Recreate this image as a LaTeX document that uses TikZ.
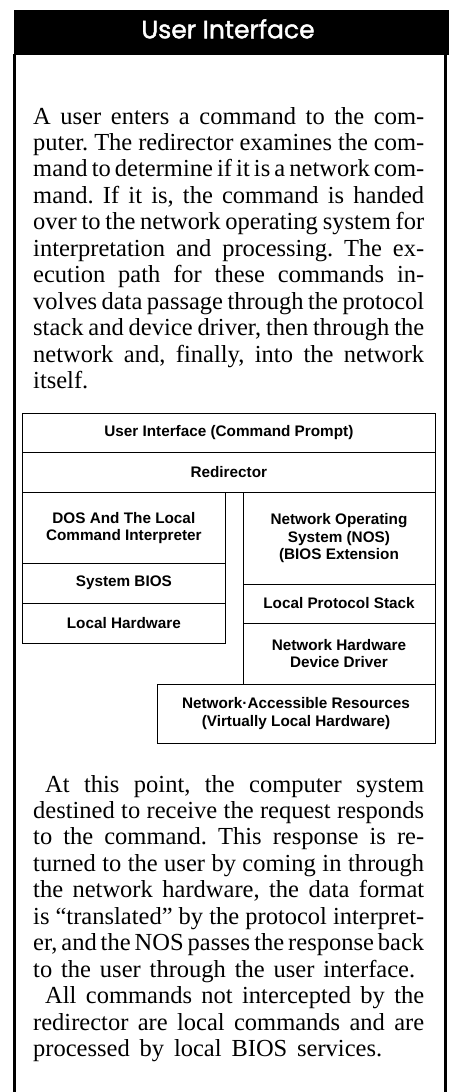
\documentclass[tikz,border=0pt]{standalone}
\usepackage{fontspec}
\setmainfont{Liberation Serif}
\newfontfamily\boxfont{Liberation Sans}
\newfontfamily\titlefont{Poppins}[FakeBold=1.6]
\newcommand\jline[1]{\hbox to\hsize{#1}}
\newcommand\wline[2]{\hbox to #1{#2}}
\newcommand\nline[1]{\hbox{#1}}
\hbadness=10000
\hfuzz=30pt
\frenchspacing
\tikzset{
  layer/.style={draw, line width=0.9pt, inner sep=0pt, align=center,
    font=\boxfont\bfseries\fontsize{15.3}{17.5}\selectfont},
  para/.style={inner sep=0pt, anchor=base west, text width=391pt,
    font=\fontsize{24.5}{26.45}\selectfont},
  frameline/.style={line width=2.5pt},
  titletext/.style={inner sep=0pt, anchor=base, text=white,
    font=\titlefont\fontsize{25}{30}\selectfont}
}
\newcommand\setspaces{\frenchspacing\spaceskip=.25em plus .8em minus .1em\relax\baselineskip=26.45pt\relax}
\begin{document}
\begin{tikzpicture}[x=1pt,y=-1pt]
\useasboundingbox (0,0) rectangle (450,1092);
% frame
\fill[black] (14,10) rectangle (448.5,55);
\draw[frameline] (14.5,54) -- (14.5,1092);
\draw[frameline] (445.5,54) -- (445.5,1092);
\node[titletext] (title) at (228,38.3) {User Interface};
% first paragraph
\node[para] (p1) at (33,124) {\setspaces
\jline{A user enters a command to the com-}
\jline{puter. The redirector examines the com-}
\jline{mand to determine if it is a network com-}
\jline{mand. If it is, the command is handed}
\jline{over to the network operating system for}
\jline{interpretation and processing. The ex-}
\jline{ecution path for these commands in-}
\jline{volves data passage through the protocol}
\jline{stack and device driver, then through the}
\jline{network and, finally, into the network}
\nline{itself.}};
% layer diagram
\node[layer, minimum width=412.3pt, minimum height=39.3pt] (ui) at (228.85,433) {User Interface (Command Prompt)};
\node[layer, minimum width=412.3pt, minimum height=40.7pt] (redir) at (228.85,472.35) {Redirector};
\node[layer, minimum width=202.3pt, minimum height=70.3pt] (dos) at (123.85,527.85) {DOS And The Local\\Command Interpreter};
\node[layer, minimum width=202.3pt, minimum height=40pt] (sbios) at (123.85,583) {System BIOS};
\node[layer, minimum width=202.3pt, minimum height=40pt] (lhw) at (123.85,623) {Local Hardware};
\node[layer, minimum width=192pt, minimum height=91.3pt] (nos) at (339,538.35) {Network Operating\\System (NOS)\\(BIOS Extension};
\node[layer, minimum width=192pt, minimum height=39pt] (lps) at (339,603.5) {Local Protocol Stack};
\node[layer, minimum width=192pt, minimum height=61pt] (nhdd) at (339,653.5) {Network Hardware\\Device Driver};
\node[layer, minimum width=278pt, minimum height=59pt] (nar) at (296,713.5) {Network·Accessible Resources\\(Virtually Local Hardware)};
% second paragraph
\node[para] (p2) at (33,792) {\setspaces
\jline{\hskip12pt At this point, the computer system}
\jline{destined to receive the request responds}
\jline{to the command. This response is re-}
\jline{turned to the user by coming in through}
\jline{the network hardware, the data format}
\jline{is “translated” by the protocol interpret-}
\jline{er, and the NOS passes the response back}
\wline{382pt}{to the user through the user interface.}
\jline{\hskip12pt All commands not intercepted by the}
\jline{redirector are local commands and are}
\wline{349pt}{processed by local BIOS services.}};
\end{tikzpicture}
\end{document}
